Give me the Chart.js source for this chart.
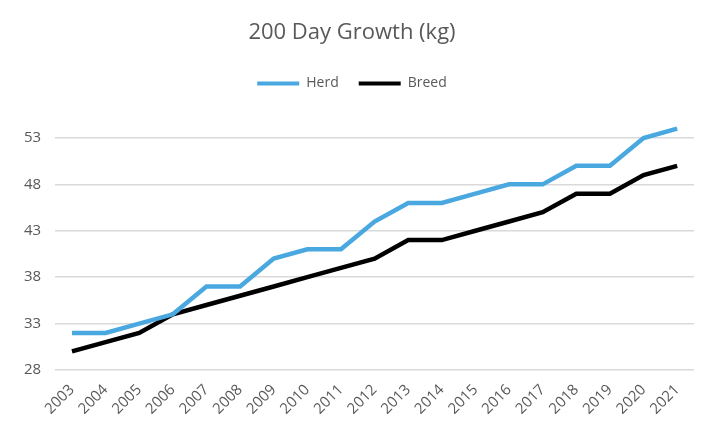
<!DOCTYPE html>
<html>
<head>
<meta charset="utf-8">
<script src="https://cdn.jsdelivr.net/npm/chart.js@4"></script>
<style>
  html, body { margin: 0; padding: 0; background: #fff; }
  #wrap { width: 714px; height: 434px; }
</style>
</head>
<body>
<div id="wrap"><canvas id="grafico"></canvas></div>
<script>
// Datos
const anios = ['2003','2004','2005','2006','2007','2008','2009','2010','2011','2012',
               '2013','2014','2015','2016','2017','2018','2019','2020','2021'];
const herd  = [32, 32, 33, 34, 37, 37, 40, 41, 41, 44, 46, 46, 47, 48, 48, 50, 50, 53, 54];
const breed = [30, 31, 32, 34, 35, 36, 37, 38, 39, 40, 42, 42, 43, 44, 45, 47, 47, 49, 50];
const ticksY = [28, 33, 38, 43, 48, 53];

const FUENTE = "'Open Sans', 'Liberation Sans', sans-serif";
const GRIS = '#595959';

// Espacio extra debajo de la leyenda
const margenLeyenda = {
    id: 'margenLeyenda',
    beforeInit(chart) {
        const fitOriginal = chart.legend.fit;
        chart.legend.fit = function () {
            fitOriginal.bind(chart.legend)();
            this.height += 19;
        };
    }
};

new Chart(document.getElementById('grafico'), {
    type: 'line',
    data: {
        labels: anios,
        datasets: [{
            label: 'Herd',
            data: herd,
            borderColor: '#4aa8e0',
            backgroundColor: '#4aa8e0',
            borderWidth: 4.5,
            pointRadius: 0,
            tension: 0
        }, {
            label: 'Breed',
            data: breed,
            borderColor: '#000000',
            backgroundColor: '#000000',
            borderWidth: 4.5,
            pointRadius: 0,
            tension: 0
        }]
    },
    options: {
        responsive: true,
        maintainAspectRatio: false,
        animation: false,
        layout: { padding: { left: 10, right: 20, top: 16, bottom: 13 } },
        scales: {
            x: {
                offset: true,
                grid: { display: false },
                border: { display: false },
                ticks: {
                    color: GRIS,
                    font: { family: FUENTE, size: 15 },
                    maxRotation: 45,
                    minRotation: 45,
                    autoSkip: false
                }
            },
            y: {
                min: 28,
                max: 55,
                afterBuildTicks: axis => {
                    axis.ticks = ticksY.map(v => ({ value: v }));
                },
                grid: { color: '#d9d9d9', lineWidth: 1.5, drawTicks: false },
                border: { display: false },
                ticks: {
                    color: GRIS,
                    padding: 14,
                    font: { family: FUENTE, size: 15 }
                }
            }
        },
        plugins: {
            title: {
                display: true,
                text: '200 Day Growth (kg)',
                color: GRIS,
                font: { family: FUENTE, size: 22, weight: 'normal' },
                padding: { top: 4, bottom: 10 }
            },
            legend: {
                display: true,
                labels: {
                    color: GRIS,
                    font: { family: FUENTE, size: 14 },
                    boxWidth: 42,
                    boxHeight: 4,
                    padding: 20,
                    generateLabels: chart => chart.data.datasets.map((ds, i) => ({
                        text: ds.label,
                        fillStyle: ds.borderColor,
                        strokeStyle: ds.borderColor,
                        lineWidth: 0,
                        fontColor: GRIS,
                        datasetIndex: i
                    }))
                }
            },
            tooltip: { enabled: false }
        }
    },
    plugins: [margenLeyenda]
});
</script>
</body>
</html>
